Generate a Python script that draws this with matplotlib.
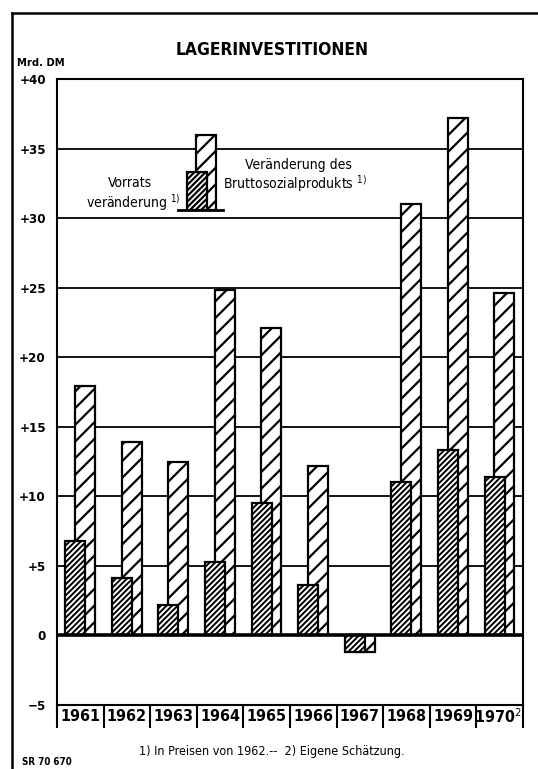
import matplotlib
matplotlib.use("Agg")
import matplotlib.pyplot as plt
from matplotlib.lines import Line2D

plt.rcParams['font.family'] = ['DejaVu Sans']
plt.rcParams['font.stretch'] = 'condensed'

# data, Mrd. DM
years = ['1961', '1962', '1963', '1964', '1965', '1966', '1967', '1968', '1969', '1970']
vorrat = [6.8, 4.1, 2.2, 5.3, 9.5, 3.6, -1.2, 11.0, 13.3, 11.4]
bsp = [17.9, 13.9, 12.5, 24.8, 22.1, 12.2, -1.2, 31.0, 37.2, 24.6]
yticks = [-5, 0, 5, 10, 15, 20, 25, 30, 35, 40]
ylabels = ['\u22125', '0', '+5', '+10', '+15', '+20', '+25', '+30', '+35', '+40']

W, H = 538, 769
fig = plt.figure(figsize=(W / 100, H / 100), dpi=100)
ax = fig.add_axes([57 / W, 1 - 705 / H, (523 - 57) / W, (705 - 79) / H])

x = list(range(len(years)))
bw = 0.43

def hatched(bars, lw):
    for p in bars:
        if hasattr(p, 'set_hatch_linewidth'):
            p.set_hatch_linewidth(lw)

plt.rcParams['hatch.linewidth'] = 1.6
b2 = ax.bar([i + 0.10 for i in x], bsp, bw, color='white', edgecolor='black',
            linewidth=1.6, hatch='//', zorder=3)
hatched(b2, 1.6)
b1 = ax.bar([i - 0.11 for i in x], vorrat, bw, color='white', edgecolor='black',
            linewidth=1.6, hatch='//////', zorder=4)
hatched(b1, 1.4)

ax.set_xlim(-0.5, 9.5)
ax.set_ylim(-5, 40)
for v in yticks[1:-1]:
    ax.axhline(v, color='black', lw=1.3 if v else 2.6, zorder=2 if v else 5)
for s in ax.spines.values():
    s.set_linewidth(1.5)
ax.set_xticks([])
ax.set_yticks(yticks)
ax.set_yticklabels(ylabels, fontsize=9.5, fontweight='bold')
ax.tick_params(axis='y', length=0, pad=8)

# year band below the plot
band = -6.65
ax.vlines([i - 0.5 for i in range(len(years) + 1)], band, -5, color='black',
          lw=1.5, clip_on=False)
for i, yr in enumerate(years):
    lab = yr if yr != '1970' else '1970$^{2)}$'
    ax.text(i, -5.85, lab, ha='center', va='center', fontsize=11.5,
            fontweight='bold', clip_on=False)

# legend key
lx1, lx2 = 2.497, 2.70
ax.bar([lx2], [36.0 - 30.6], 0.43, bottom=30.6, color='white', edgecolor='black',
       linewidth=1.6, hatch='//', zorder=3)
ax.bar([lx1], [33.3 - 30.6], 0.43, bottom=30.6, color='white', edgecolor='black',
       linewidth=1.6, hatch='//////', zorder=4)
ax.plot([2.10, 3.06], [30.6, 30.6], color='black', lw=2, zorder=5)
ax.text(1.07, 32.5, 'Vorrats', ha='center', va='center', fontsize=10)
ax.text(2.16, 31.15, 'veränderung $^{1)}$', ha='right', va='center', fontsize=10)
ax.text(4.68, 33.8, 'Veränderung des', ha='center', va='center', fontsize=10)
ax.text(3.06, 32.5, 'Bruttosozialprodukts $^{1)}$', ha='left', va='center', fontsize=10)

fig.text(272 / W, 1 - 50 / H, 'LAGERINVESTITIONEN', ha='center', va='center',
         fontsize=12.5, fontweight='bold')
fig.text(17 / W, 1 - 63 / H, 'Mrd. DM', ha='left', va='center', fontsize=8,
         fontweight='bold')
fig.text(272 / W, 1 - 751 / H, '1) In Preisen von 1962.--  2) Eigene Schätzung.',
         ha='center', va='center', fontsize=9)
fig.text(22 / W, 1 - 762 / H, 'SR 70 670', ha='left', va='center', fontsize=7,
         fontweight='bold')

# outer frame
fig.add_artist(Line2D([12 / W, 12 / W], [0, 1 - 13 / H], color='black', lw=1.8))
fig.add_artist(Line2D([12 / W, 1], [1 - 13 / H, 1 - 13 / H], color='black', lw=1.8))

fig.savefig('out.png', dpi=100)
